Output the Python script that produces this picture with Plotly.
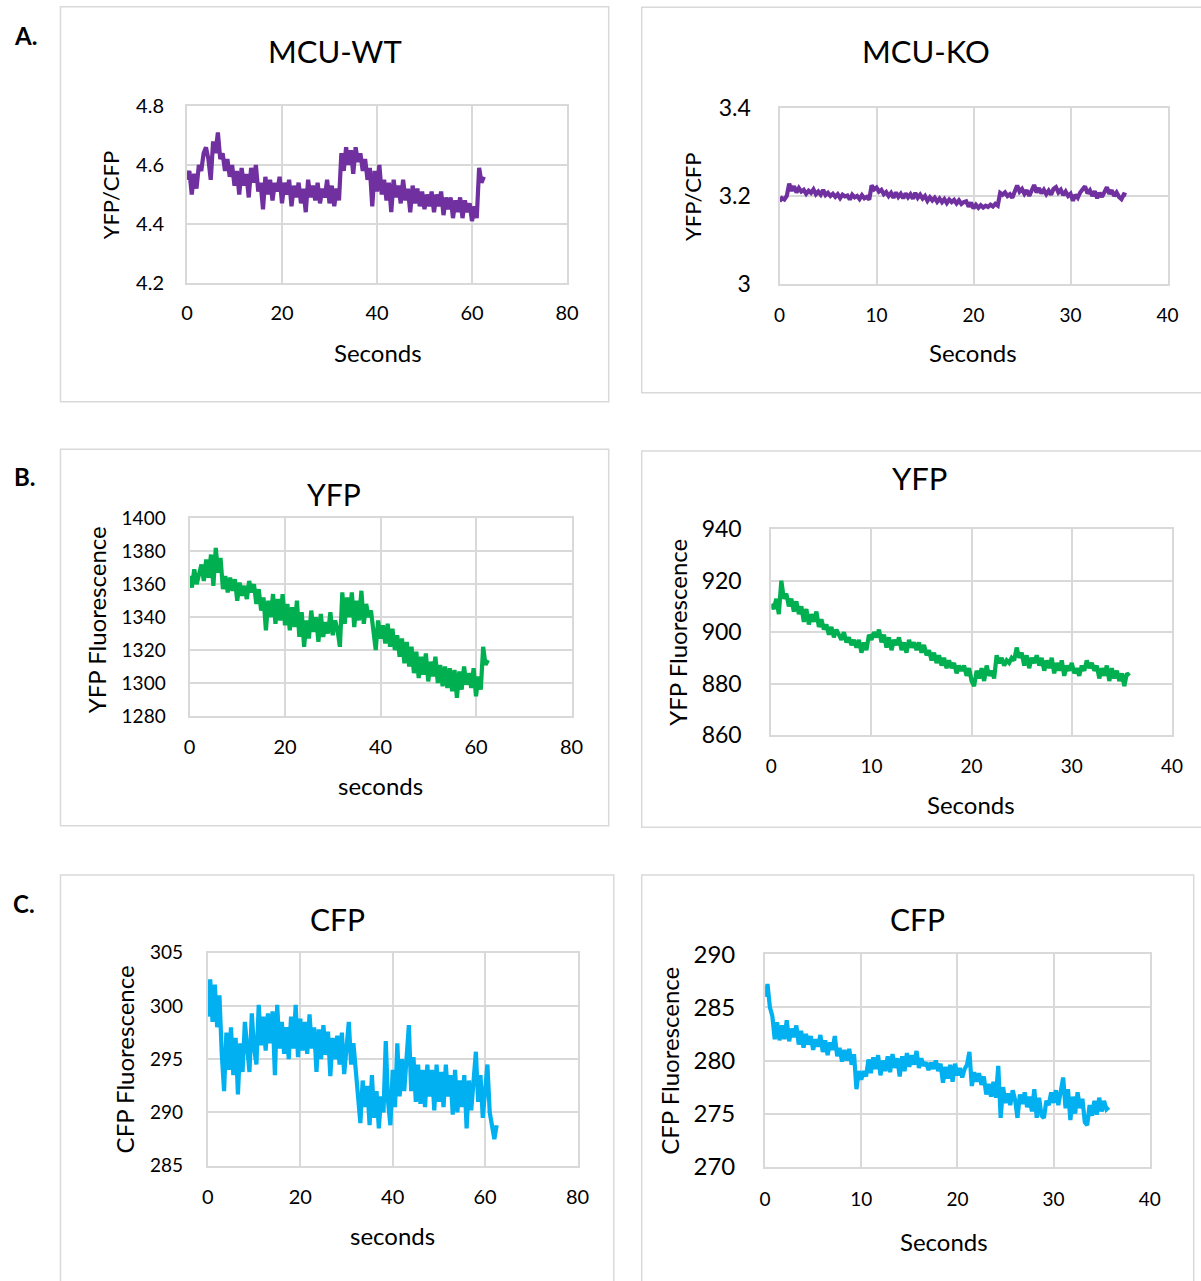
import plotly.graph_objects as go

W, H = 1201, 1281
FONT = "Lato, 'Open Sans', sans-serif"

# ---------------- data ----------------
WT_DT = 0.5    # seconds between samples, MCU-WT recordings
KO_DT = 0.25   # seconds between samples, MCU-KO recordings

wt_ratio = [
    4.55, 4.58, 4.50, 4.57, 4.52, 4.60, 4.58, 4.64, 4.66, 4.62, 4.55, 4.68, 4.64, 4.71, 4.62,
    4.64, 4.58, 4.62, 4.56, 4.60, 4.53, 4.58, 4.50, 4.59, 4.53, 4.57, 4.49, 4.59, 4.54, 4.60, 4.51,
    4.54, 4.45, 4.56, 4.50, 4.55, 4.48, 4.54, 4.51, 4.56, 4.47, 4.54, 4.50, 4.55, 4.46, 4.53, 4.49,
    4.54, 4.47, 4.52, 4.44, 4.55, 4.49, 4.53, 4.48, 4.54, 4.47, 4.52, 4.49, 4.55, 4.47, 4.53, 4.46,
    4.52, 4.48,
    4.64, 4.58, 4.66, 4.60, 4.65, 4.57, 4.66, 4.61, 4.64, 4.58, 4.62,
    4.55, 4.59, 4.46, 4.58, 4.51, 4.60, 4.50,
    4.55, 4.48, 4.54, 4.44, 4.55, 4.49, 4.53, 4.47, 4.55, 4.48, 4.52, 4.44, 4.53, 4.47, 4.52, 4.46,
    4.51, 4.45, 4.50, 4.46, 4.51, 4.44, 4.50, 4.46, 4.51, 4.43, 4.49, 4.45, 4.49, 4.42, 4.48, 4.44,
    4.49, 4.42, 4.48, 4.44, 4.47, 4.41, 4.46, 4.42,
    4.59, 4.54, 4.56,
]

ko_ratio = [
    3.188, 3.195, 3.192, 3.200, 3.228, 3.212, 3.222, 3.208, 3.218, 3.210, 3.214, 3.205, 3.212, 3.207,
    3.215, 3.204, 3.210, 3.203, 3.214, 3.202, 3.207, 3.200, 3.205, 3.198, 3.204, 3.195, 3.203, 3.199,
    3.201, 3.192, 3.203, 3.197, 3.200, 3.193, 3.202, 3.195, 3.198, 3.192, 3.224, 3.215, 3.219, 3.210,
    3.214, 3.204, 3.209, 3.200, 3.207, 3.196, 3.208, 3.198, 3.205, 3.195, 3.206, 3.197, 3.204, 3.194,
    3.207, 3.196, 3.203, 3.194, 3.200, 3.189, 3.197, 3.190, 3.196, 3.187, 3.194, 3.186, 3.193, 3.184,
    3.192, 3.186, 3.191, 3.183, 3.190, 3.182, 3.186, 3.188, 3.176, 3.185, 3.172, 3.180, 3.173, 3.179,
    3.174, 3.178, 3.175, 3.180, 3.176, 3.182, 3.178, 3.207, 3.203, 3.208, 3.200, 3.204, 3.196, 3.210,
    3.224, 3.210, 3.216, 3.205, 3.213, 3.200, 3.212, 3.225, 3.208, 3.218, 3.206, 3.214, 3.204, 3.212,
    3.203, 3.216, 3.220, 3.208, 3.214, 3.202, 3.210, 3.200, 3.205, 3.189, 3.203, 3.196, 3.208, 3.214,
    3.222, 3.206, 3.213, 3.200, 3.211, 3.195, 3.207, 3.198, 3.212, 3.220, 3.205, 3.213, 3.200, 3.208,
    3.198, 3.193, 3.204, 3.202,
]

wt_yfp = [
    1365, 1358, 1369, 1360, 1366, 1372, 1362, 1375, 1364, 1378, 1359, 1382, 1367, 1376, 1357, 1365,
    1355, 1364, 1356, 1363, 1350, 1361, 1353, 1359, 1351, 1362, 1355, 1360, 1348, 1357, 1344, 1352,
    1332, 1350, 1340, 1354, 1336, 1351, 1338, 1354, 1335, 1348, 1332, 1346, 1334, 1350, 1328, 1343,
    1322, 1338, 1327, 1344, 1331, 1340, 1325, 1342, 1328, 1337, 1330, 1343, 1329, 1338, 1332, 1322,
    1355, 1336, 1352, 1340, 1355, 1334, 1350, 1338, 1356, 1336, 1348, 1340, 1344, 1330, 1320, 1338,
    1327, 1335, 1324, 1336, 1322, 1333, 1320, 1329, 1316, 1327, 1312, 1325, 1310, 1322, 1306, 1319,
    1303, 1316, 1305, 1318, 1301, 1313, 1304, 1316, 1300, 1311, 1298, 1310, 1297, 1309, 1295, 1308,
    1291, 1307, 1296, 1310, 1299, 1306, 1297, 1309, 1292, 1304, 1296, 1322, 1311, 1314,
]

ko_yfp = [
    911, 909, 913, 907, 920, 913, 915, 910, 913, 908, 912, 907, 910, 904, 909, 903,
    907, 904, 908, 902, 905, 901, 903, 899, 902, 898, 901, 899, 897, 900, 896, 898,
    895, 897, 894, 897, 892, 896, 893, 899, 897, 900, 898, 901, 896, 899, 894, 898,
    893, 897, 895, 898, 893, 896, 892, 897, 894, 896, 893, 896, 892, 895, 891, 893,
    889, 892, 888, 891, 887, 890, 886, 889, 886, 888, 884, 887, 885, 887, 883, 886,
    881, 879, 885, 882, 886, 881, 887, 883, 885, 882, 891, 888, 890, 887, 889, 888,
    890, 889, 894, 890, 892, 887, 891, 886, 890, 888, 891, 887, 890, 885, 889, 886,
    890, 884, 888, 885, 889, 883, 887, 885, 888, 884, 886, 883, 887, 885, 889, 886,
    888, 885, 887, 882, 886, 883, 887, 881, 886, 882, 885, 881, 884, 879, 884, 883,
]

wt_cfp = [
    299.0, 302.5, 298.5, 302.0, 298.0, 301.0, 295.5, 292.0, 297.5, 294.0, 298.0, 293.5, 297.0, 291.7,
    296.5, 293.8, 298.5, 295.5, 293.8, 299.3, 296.0, 294.5, 300.1, 296.3, 299.0, 295.8, 299.3, 296.5,
    299.5, 293.5, 300.1, 296.0, 298.5, 295.5, 298.0, 295.0, 299.0, 296.0, 300.1, 295.2, 298.8, 295.8,
    298.5, 295.5, 299.2, 296.0, 298.0, 293.8, 297.8, 295.0, 298.2, 295.4, 297.6, 293.4, 297.0, 295.0,
    297.2, 294.5, 297.5, 293.6, 296.5, 298.5, 294.5, 296.5, 294.0, 291.5, 289.0, 293.0, 290.5, 292.5,
    288.8, 293.5, 289.5, 292.0, 288.5, 291.5, 290.0, 296.7, 291.0, 288.8, 294.0, 290.5, 296.5, 291.5,
    295.0, 292.0, 295.5, 298.2, 292.0, 295.2, 291.0, 294.5, 290.8, 294.0, 290.5, 294.5, 291.5, 294.0,
    290.2, 294.5, 291.0, 293.8, 290.5, 294.5, 291.5, 293.5, 289.8, 294.0, 290.0, 293.0, 290.5, 293.5,
    288.5, 293.0, 290.2, 293.5, 295.7, 291.0, 293.5, 289.5, 292.5, 294.5, 290.0, 288.5, 287.5, 288.8,
]

ko_cfp = [
    286.0, 287.2, 285.0, 284.2, 282.0, 283.6, 281.9, 283.3, 282.0, 283.8, 281.8, 283.0, 282.2, 283.3,
    281.5, 282.8, 281.2, 282.5, 281.5, 282.3, 281.0, 282.0, 281.3, 282.4, 280.8, 281.9, 280.5, 281.7,
    281.0, 282.3, 280.4, 281.2, 279.9, 281.0, 280.0, 281.1, 279.6, 280.6, 277.3, 279.0, 278.2, 279.0,
    278.5, 280.1, 278.8, 280.3, 279.2, 280.5, 278.6, 280.0, 279.0, 280.4, 278.9, 280.6, 279.3, 280.2,
    278.5, 280.4, 279.0, 280.7, 279.4, 280.5, 279.6, 280.9, 279.3, 280.2, 279.5, 279.8, 279.1, 279.8,
    279.2, 280.0, 279.0, 279.7, 277.9, 279.4, 278.3, 279.6, 278.0, 279.7, 278.6, 279.3, 278.4, 279.2,
    279.6, 280.8, 277.6, 278.9, 278.0, 278.8, 277.7, 278.5, 276.8, 277.8, 276.6, 278.0, 276.5, 279.5,
    274.6, 277.5, 276.0, 276.9, 275.8, 277.2, 276.3, 274.6, 276.8, 275.9, 277.0, 275.6, 276.6, 275.2,
    277.3, 274.6, 276.5, 274.8, 274.6, 276.2, 275.8, 277.0, 276.0, 277.2, 275.8, 277.0, 278.4, 275.5,
    277.3, 274.4, 276.6, 275.0, 277.0, 275.5, 276.4, 274.2, 273.9, 275.8, 274.8, 276.2, 274.9, 276.5,
    275.2, 276.2, 275.4, 275.6,
]

# ---------------- panel layout (pixel geometry) ----------------
PURPLE, GREEN, CYAN = "#7030A0", "#00B050", "#00B0F0"

panels = [
    dict(vals=wt_ratio, dt=WT_DT, color=PURPLE,
         box=(60.5, 6.7, 608.7, 401.7), plot=(187, 106, 567, 283),
         xr=[0, 80], xd=20, yr=[4.2, 4.8], yd=0.2,
         title="MCU-WT", tpos=(335, 50.5), tsize=31,
         xt="Seconds", xtpos=(377.5, 353), yt="YFP/CFP", ytpos=(111.3, 195), yts=22,
         yfs=20, xfs=20, ystand=17, xstand=11),
    dict(vals=ko_ratio, dt=KO_DT, color=PURPLE,
         box=(641.7, 7.3, 1203, 392.7), plot=(779.5, 108, 1167.5, 284),
         xr=[0, 40], xd=10, yr=[3.0, 3.4], yd=0.2,
         title="MCU-KO", tpos=(926, 50.5), tsize=31,
         xt="Seconds", xtpos=(973, 353), yt="YFP/CFP", ytpos=(693, 197), yts=22,
         yfs=23, xfs=19, ystand=22, xstand=13),
    dict(vals=wt_yfp, dt=WT_DT, color=GREEN,
         box=(60.5, 449.3, 608.7, 825.7), plot=(189.5, 518.3, 571.5, 716),
         xr=[0, 80], xd=20, yr=[1280, 1400], yd=20,
         title="YFP", tpos=(334.4, 493.8), tsize=30,
         xt="seconds", xtpos=(380.4, 785.8), yt="YFP Fluorescence", ytpos=(96, 620.3), yts=24,
         yfs=19, xfs=20, ystand=18, xstand=12),
    dict(vals=ko_yfp, dt=KO_DT, color=GREEN,
         box=(641.7, 451, 1203, 827.3), plot=(771.3, 529.3, 1171.9, 735),
         xr=[0, 40], xd=10, yr=[860, 940], yd=20,
         title="YFP", tpos=(920, 478.3), tsize=31,
         xt="Seconds", xtpos=(971, 804), yt="YFP Fluorescence", ytpos=(677.3, 632.5), yts=24,
         yfs=23, xfs=19, ystand=23, xstand=13),
    dict(vals=wt_cfp, dt=WT_DT, color=CYAN,
         box=(60.5, 875, 613.8, 1290), plot=(207.9, 952.7, 577.5, 1165.7),
         xr=[0, 80], xd=20, yr=[285, 305], yd=5,
         title="CFP", tpos=(337, 919), tsize=30,
         xt="seconds", xtpos=(392.3, 1235.8), yt="CFP Fluorescence", ytpos=(124.9, 1059.5), yts=24,
         yfs=19, xfs=20, ystand=19, xstand=12),
    dict(vals=ko_cfp, dt=KO_DT, color=CYAN,
         box=(641.7, 875, 1193.7, 1290), plot=(765.1, 954.3, 1149.7, 1166.7),
         xr=[0, 40], xd=10, yr=[270, 290], yd=5,
         title="CFP", tpos=(917, 919), tsize=30,
         xt="Seconds", xtpos=(943.5, 1241.7), yt="CFP Fluorescence", ytpos=(670, 1060.8), yts=24,
         yfs=24, xfs=19, ystand=23, xstand=14),
]

panel_letters = [("A.", 25, 35), ("B.", 25, 477), ("C.", 24, 903)]


def fx(p):
    return p / W


def fy(p):
    return 1 - p / H


fig = go.Figure()
layout = dict(
    width=W, height=H, margin=dict(l=0, r=0, t=0, b=0),
    paper_bgcolor="white", plot_bgcolor="white", showlegend=False,
    template="none", font=dict(family=FONT, color="#000000"),
)
shapes, annotations = [], []
GRID = "#d9d9d9"

for i, p in enumerate(panels, start=1):
    sfx = "" if i == 1 else str(i)
    t = [k * p["dt"] for k in range(len(p["vals"]))]
    fig.add_trace(go.Scatter(
        x=t, y=p["vals"], mode="lines", xaxis="x" + sfx, yaxis="y" + sfx,
        line=dict(color=p["color"], width=4.2), hoverinfo="skip",
    ))
    x0, y0, x1, y1 = p["plot"]
    layout["xaxis" + sfx] = dict(
        domain=[fx(x0), fx(x1)], anchor="y" + sfx, range=p["xr"],
        tick0=0, dtick=p["xd"], showgrid=True, gridcolor=GRID, gridwidth=2,
        showline=True, mirror=True, linecolor=GRID, linewidth=2, zeroline=False,
        ticks="", tickfont=dict(family=FONT, size=p["xfs"], color="#000000"),
        ticklabelstandoff=p["xstand"], fixedrange=True,
    )
    layout["yaxis" + sfx] = dict(
        domain=[fy(y1), fy(y0)], anchor="x" + sfx, range=p["yr"],
        tick0=p["yr"][0], dtick=p["yd"], showgrid=True, gridcolor=GRID, gridwidth=2,
        showline=True, mirror=True, linecolor=GRID, linewidth=2, zeroline=False,
        ticks="", tickfont=dict(family=FONT, size=p["yfs"], color="#000000"),
        ticklabelstandoff=p["ystand"], fixedrange=True,
    )
    bx0, by0, bx1, by1 = p["box"]
    shapes.append(dict(type="rect", xref="paper", yref="paper",
                       x0=fx(bx0), x1=fx(bx1), y0=fy(by1), y1=fy(by0),
                       line=dict(color="#d9d9d9", width=1.5), fillcolor="rgba(0,0,0,0)",
                       layer="below"))
    annotations.append(dict(text=p["title"], x=fx(p["tpos"][0]), y=fy(p["tpos"][1]),
                            xref="paper", yref="paper", xanchor="center", yanchor="middle",
                            showarrow=False, font=dict(family=FONT, size=p["tsize"], color="#000000")))
    annotations.append(dict(text=p["xt"], x=fx(p["xtpos"][0]), y=fy(p["xtpos"][1]),
                            xref="paper", yref="paper", xanchor="center", yanchor="middle",
                            showarrow=False, font=dict(family=FONT, size=24, color="#000000")))
    annotations.append(dict(text=p["yt"], x=fx(p["ytpos"][0]), y=fy(p["ytpos"][1]),
                            xref="paper", yref="paper", xanchor="center", yanchor="middle",
                            textangle=-90, showarrow=False,
                            font=dict(family=FONT, size=p["yts"], color="#000000")))

for txt, lx, ly in panel_letters:
    annotations.append(dict(text="<b>" + txt + "</b>", x=fx(lx), y=fy(ly), xref="paper", yref="paper",
                            xanchor="center", yanchor="middle", showarrow=False,
                            font=dict(family=FONT, size=24, color="#000000")))

layout["shapes"] = shapes
layout["annotations"] = annotations
fig.update_layout(**layout)
fig.write_html("out.html")
